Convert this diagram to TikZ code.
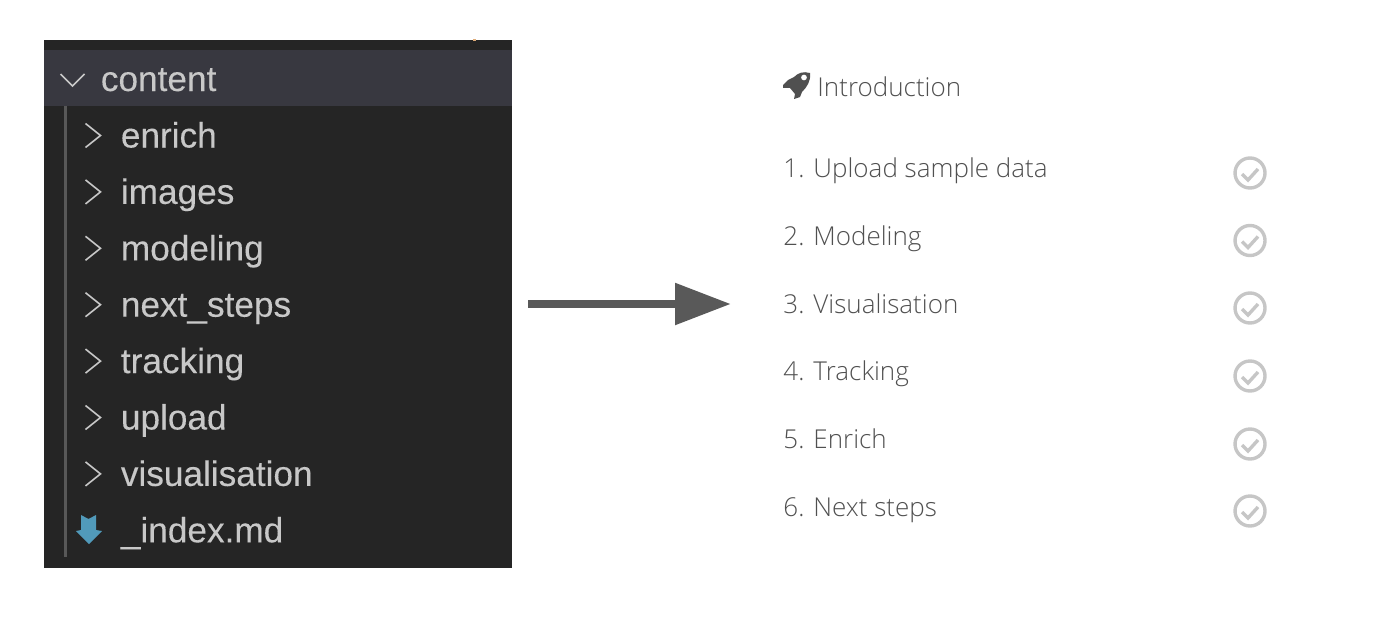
\documentclass[tikz,border=0pt]{standalone}
\usepackage{fontspec}
\setmainfont{Liberation Sans}[FakeBold=0.15]
\newfontfamily\stepfont{Open Sans Light}
\usetikzlibrary{calc,arrows.meta,positioning}
\definecolor{panelbg}{HTML}{252525}
\definecolor{headerbg}{HTML}{383840}
\definecolor{foldertxt}{HTML}{C8C8C8}
\definecolor{guideline}{HTML}{585858}
\definecolor{steptxt}{HTML}{505050}
\definecolor{tickgray}{HTML}{C6C6C6}
\definecolor{mdblue}{HTML}{519ABA}
\definecolor{arrowgray}{HTML}{595959}
\tikzset{
    folder/.style={
    inner sep=0pt,anchor=base west,text=foldertxt,font=\fontsize{17.6}{18}\selectfont
    },
    lesson/.style={
    inner sep=0pt,anchor=base west,text=steptxt,font=\stepfont\fontsize{13}{14}\selectfont
    },
    tick/.style={
    circle,draw=tickgray,line width=1.7pt,minimum size=15pt,inner sep=0pt
    },
    chevron/.style={
    draw=foldertxt,line width=0.8pt
    },
}
\begin{document}
\begin{tikzpicture}[x=0.5pt,y=-0.5pt,on grid]
   \useasboundingbox (0,0) rectangle (1400,642);
   \fill[panelbg] (44,40) rectangle (512,568);
   \fill[headerbg] (44,50) rectangle (512,106);
   \fill[guideline] (64,106) rectangle (67,557);
   \fill[foldertxt!60!orange] (473,39) rectangle (476,41);

   \node[folder] (content) at (100.5,91) {content};
   \node[folder] (enrich) at (120.5,147.5) {enrich};
   \node[folder,below=28.2pt of enrich.base west,anchor=base west] (images) {images};
   \node[folder,below=28.2pt of images.base west,anchor=base west] (modeling) {modeling};
   \node[folder,below=28.2pt of modeling.base west,anchor=base west] (nextsteps) {next\_steps};
   \node[folder,below=28.2pt of nextsteps.base west,anchor=base west] (tracking) {tracking};
   \node[folder,below=28.2pt of tracking.base west,anchor=base west] (upload) {upload};
   \node[folder,below=28.2pt of upload.base west,anchor=base west] (visualisation) {visualisation};
   \node[folder,below=28.2pt of visualisation.base west,anchor=base west] (index) {\_index.md};

   \draw[chevron] ($(content.base west)+(-40,-17)$) -- ++(12,12) -- ++(12,-12);
   \foreach \n in {enrich,images,modeling,nextsteps,tracking,upload,visualisation}
     \draw[chevron] ($(\n.base west)+(-35,-24)$) -- ++(15,12) -- ++(-15,12);

   % markdown icon
   \fill[mdblue] (81,515) -- (88.5,519) -- (96,515) -- (96,530) -- (102,531) -- (89,544) -- (76,531) -- (81,530) -- cycle;

   \coordinate (tailpt) at (528,304);
   \coordinate (tippt) at (731,304);
   \draw[arrowgray,line width=4.3pt,-{Triangle[length=28pt,width=20pt]}] (tailpt) -- (tippt);

   \node[lesson] (intro) at (817,97) {Introduction};
   \node[lesson] (s1) at (783,177.5) {1. Upload sample data};
   \node[lesson,below=33.9pt of s1.base west,anchor=base west] (s2) {2. Modeling};
   \node[lesson,below=33.9pt of s2.base west,anchor=base west] (s3) {3. Visualisation};
   \node[lesson,below=33.9pt of s3.base west,anchor=base west] (s4) {4. Tracking};
   \node[lesson,below=33.9pt of s4.base west,anchor=base west] (s5) {5. Enrich};
   \node[lesson,below=33.9pt of s5.base west,anchor=base west] (s6) {6. Next steps};

   % rocket
   \fill[steptxt,even odd rule] (810,73) .. controls (803,71) and (798,73) .. (794,77) -- (788,80) -- (783,85) -- (783,88) -- (790,88) -- (795,94) -- (794,99) -- (800,97) -- (802,92) .. controls (807,87) and (811,81) .. (810,73) -- cycle
     (804,77.5) circle [radius=3];

   \foreach \n/\ypos in {a/173,b/240.5,c/308,d/376,e/444,f/511} {
     \node[tick] (tick\n) at (1250,\ypos) {};
     \draw[tickgray,line width=1.7pt] ($(tick\n)+(-8,1)$) -- ++(6,6) -- ++(10,-11);
   }
\end{tikzpicture}
\end{document}
